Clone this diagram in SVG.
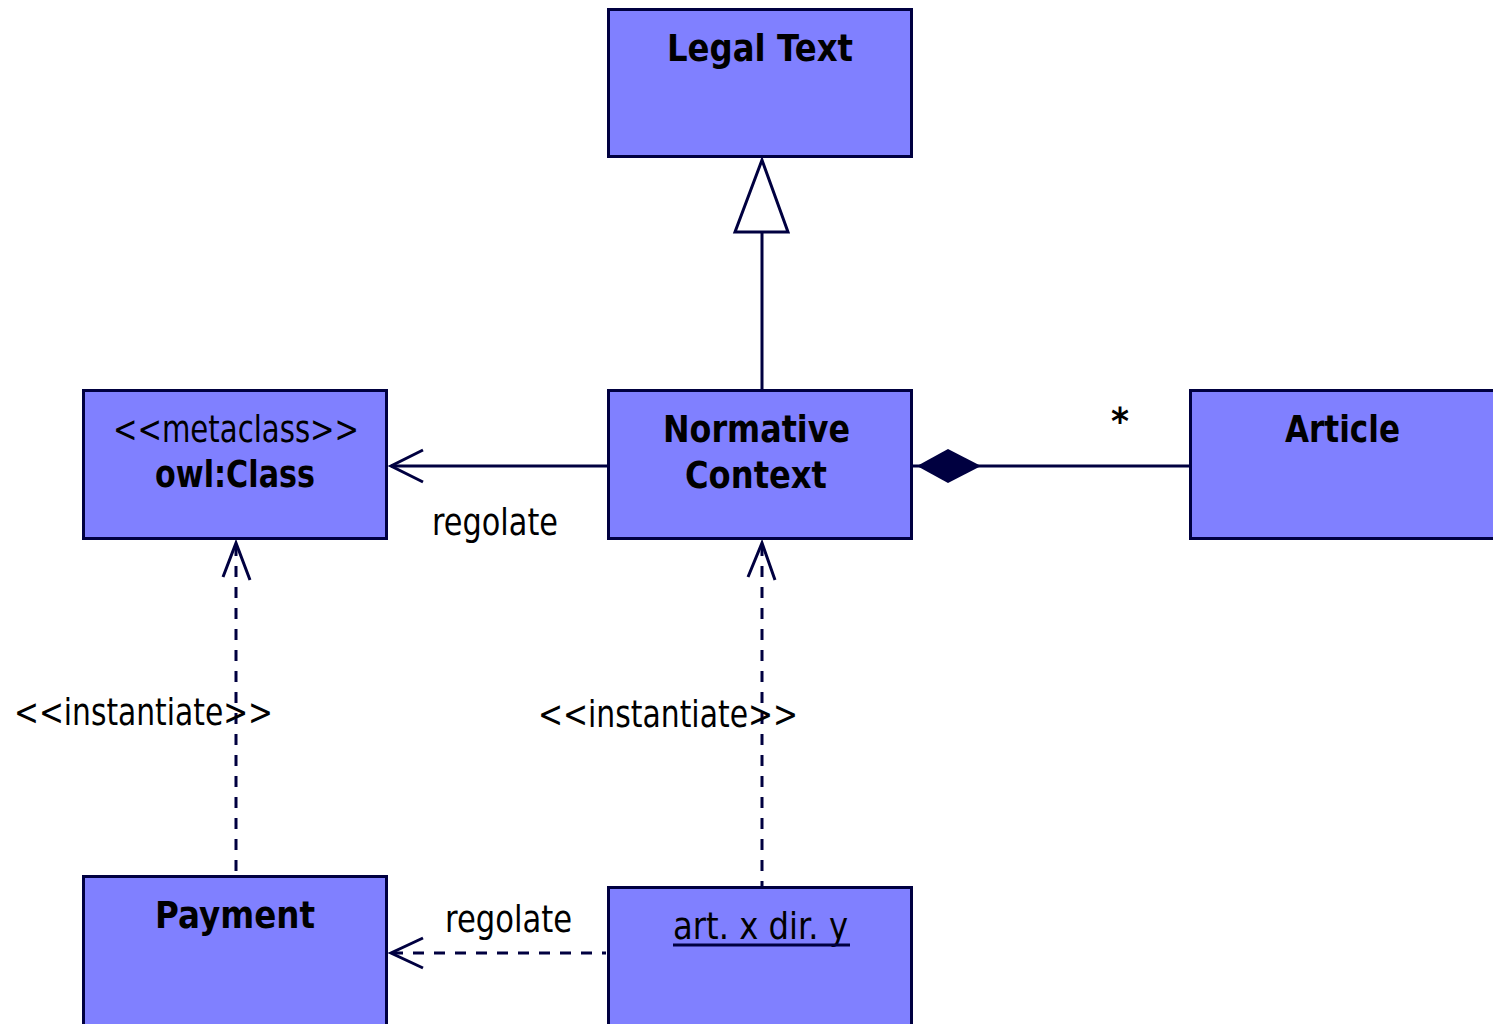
<svg xmlns="http://www.w3.org/2000/svg" width="1493" height="1024" viewBox="0 0 1493 1024">
<style>
.box{fill:#8080FF;stroke:#000040;stroke-width:3}
.t{font-family:"DejaVu Sans","Liberation Sans",sans-serif;font-size:38px;fill:#000}
.b{font-weight:bold}
.ln{stroke:#000040;stroke-width:3;fill:none}
.d{stroke-dasharray:11 10}
</style>
<rect width="1493" height="1024" fill="#fff"/>
<g id="connectors">
  <line class="ln" x1="762" y1="232" x2="762" y2="389"/>
  <polygon points="762,160 735,232 788,232" fill="#fff" stroke="#000040" stroke-width="3"/>
  <line class="ln" x1="391" y1="466" x2="607" y2="466"/>
  <polyline class="ln" points="423,450 391,466 423,482"/>
  <line class="ln" x1="913" y1="466" x2="1190" y2="466"/>
  <polygon points="917,466 948,449 981,466 948,483" fill="#000040"/>
  <line class="ln d" x1="236" y1="545" x2="236" y2="875"/>
  <polyline class="ln" points="223,577 236,543 250,580"/>
  <line class="ln d" x1="762" y1="545" x2="762" y2="886"/>
  <polyline class="ln" points="748,577 762,543 775,580"/>
  <line class="ln d" x1="392" y1="953" x2="606" y2="953"/>
  <polyline class="ln" points="423,938 391,953 423,968"/>
  <text class="t" x="432" y="535" textLength="126" lengthAdjust="spacingAndGlyphs">regolate</text>
  <text class="t" x="445" y="932" textLength="127" lengthAdjust="spacingAndGlyphs">regolate</text>
  <text class="t" x="14" y="725" textLength="259" lengthAdjust="spacingAndGlyphs">&lt;&lt;instantiate&gt;&gt;</text>
  <text class="t" x="538" y="727" textLength="260" lengthAdjust="spacingAndGlyphs">&lt;&lt;instantiate&gt;&gt;</text>
  <text class="t b" x="1111" y="434" textLength="18" lengthAdjust="spacingAndGlyphs">*</text>
</g>
<g id="legal-text">
  <rect class="box" x="608.5" y="9.5" width="303" height="147"/>
  <text class="t b" x="667" y="61" textLength="186" lengthAdjust="spacingAndGlyphs">Legal Text</text>
</g>
<g id="owl-class">
  <rect class="box" x="83.5" y="390.5" width="303" height="148"/>
  <text class="t" x="113" y="442" textLength="246" lengthAdjust="spacingAndGlyphs">&lt;&lt;metaclass&gt;&gt;</text>
  <text class="t b" x="155" y="487" textLength="160" lengthAdjust="spacingAndGlyphs">owl:Class</text>
</g>
<g id="normative-context">
  <rect class="box" x="608.5" y="390.5" width="303" height="148"/>
  <text class="t b" x="663" y="442" textLength="187" lengthAdjust="spacingAndGlyphs">Normative</text>
  <text class="t b" x="685" y="488" textLength="142" lengthAdjust="spacingAndGlyphs">Context</text>
</g>
<g id="article">
  <rect class="box" x="1190.5" y="390.5" width="320" height="148"/>
  <text class="t b" x="1285" y="442" textLength="115" lengthAdjust="spacingAndGlyphs">Article</text>
</g>
<g id="payment">
  <rect class="box" x="83.5" y="876.5" width="303" height="160"/>
  <text class="t b" x="155" y="928" textLength="160" lengthAdjust="spacingAndGlyphs">Payment</text>
</g>
<g id="art-x-dir-y">
  <rect class="box" x="608.5" y="887.5" width="303" height="160"/>
  <text class="t" x="673" y="939" textLength="175" lengthAdjust="spacingAndGlyphs">art. x dir. y</text>
  <line x1="673" y1="945" x2="850" y2="945" stroke="#000040" stroke-width="3"/>
</g>
</svg>
